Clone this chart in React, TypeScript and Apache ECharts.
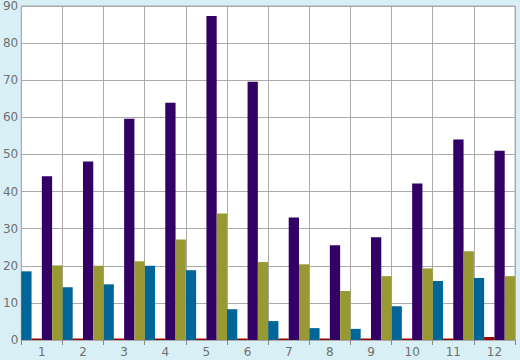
import React, { useEffect, useRef } from "react";
import * as echarts from "echarts";

const categories = ["1", "2", "3", "4", "5", "6", "7", "8", "9", "10", "11", "12"];
const seriesBlue = [18.5, 14.2, 15.0, 20.0, 18.8, 8.3, 5.1, 3.2, 3.0, 9.1, 15.9, 16.7];
const seriesRed = [0.4, 0.4, 0.4, 0.4, 0.4, 0.4, 0.4, 0.4, 0.4, 0.4, 0.4, 0.8];
const seriesPurple = [44.1, 48.1, 59.6, 63.9, 87.3, 69.6, 33.0, 25.5, 27.7, 42.2, 54.0, 51.0];
const seriesOlive = [20.1, 20.0, 21.2, 27.1, 34.1, 21.0, 20.4, 13.2, 17.2, 19.3, 23.9, 17.2];

export default function App() {
  const ref = useRef<HTMLDivElement>(null);
  useEffect(() => {
    if (!ref.current) return;
    const chart = echarts.init(ref.current, null, { renderer: "svg" });
    const mk = (name: string, data: number[], color: string) => ({
      name,
      type: "bar",
      data,
      barGap: "0%",
      barCategoryGap: "0%",
      itemStyle: { color },
    });
    chart.setOption({
      animation: false,
      backgroundColor: "#d9eff6",
      textStyle: { fontFamily: "DejaVu Sans" },
      grid: {
        left: 20,
        top: 5,
        right: 5,
        bottom: 20,
        show: true,
        backgroundColor: "#ffffff",
        borderColor: "#aaaaaa",
        borderWidth: 1,
      },
      xAxis: {
        type: "category",
        data: categories,
        boundaryGap: true,
        axisLine: { show: true, lineStyle: { color: "#aaaaaa" } },
        axisTick: { show: true, length: 5, lineStyle: { color: "#888888" } },
        axisLabel: { color: "#707070", fontSize: 12, margin: 6 },
        splitLine: { show: true, lineStyle: { color: "#aaaaaa", width: 1 } },
      },
      yAxis: {
        type: "value",
        min: 0,
        max: 90,
        interval: 10,
        axisLine: { show: true, lineStyle: { color: "#aaaaaa" } },
        axisTick: { show: false },
        axisLabel: { color: "#707070", fontSize: 12, margin: 3 },
        splitLine: { show: true, lineStyle: { color: "#aaaaaa", width: 1 } },
      },
      series: [
        mk("A", seriesBlue, "#006699"),
        mk("B", seriesRed, "#990000"),
        mk("C", seriesPurple, "#330066"),
        mk("D", seriesOlive, "#999933"),
      ],
    });
    return () => chart.dispose();
  }, []);
  return <div ref={ref} style={{ width: 520, height: 360, position: "fixed", left: 0, top: 0 }} />;
}
